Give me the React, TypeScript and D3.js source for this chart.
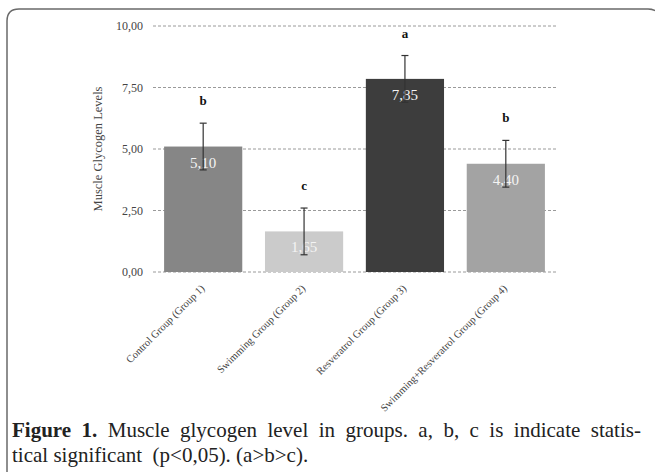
import * as d3 from "d3";
import React from "react";

const groups = [
  "Control Group (Group 1)",
  "Swimming Group (Group 2)",
  "Resveratrol Group (Group 3)",
  "Swimming+Resveratrol Group (Group 4)",
];
const means = [5.1, 1.65, 7.85, 4.4];
const errors = [0.95, 0.95, 0.95, 0.95];
const letters = ["b", "c", "a", "b"];
const barColors = ["#868686", "#cbcbcb", "#3d3d3d", "#a3a3a3"];
const yTicks = [0, 2.5, 5, 7.5, 10];

const fmt = (v: number) => v.toFixed(2).replace(".", ",");

const serif = { fontFamily: "'Liberation Serif', 'DejaVu Serif', serif" };

const App: React.FC = () => {
  const width = 655;
  const height = 472;
  const margin = { top: 26, bottom: 272, left: 153, right: 556 };

  const x = d3.scaleBand<string>()
    .domain(groups)
    .range([margin.left, margin.right])
    .paddingInner(0.225)
    .paddingOuter(0.11);

  const y = d3.scaleLinear().domain([0, 10]).range([margin.bottom, margin.top]);

  return (
    <svg
      width={width}
      height={height}
      style={{ position: "absolute", left: 0, top: 0, background: "#fff" }}
    >
      {/* frame */}
      <path
        d="M7,480 L7,21 Q7,9 19,9 L648,9 Q655,9 660,14"
        fill="none"
        stroke="#6a6a6a"
        strokeWidth={1.5}
      />

      {/* gridlines + y ticks */}
      {yTicks.map((t) => (
        <g key={t}>
          <line
            x1={margin.left}
            x2={margin.right}
            y1={y(t)}
            y2={y(t)}
            stroke="#9a9a9a"
            strokeWidth={1}
            strokeDasharray="3,2"
          />
          <text
            x={143}
            y={y(t)}
            dy="0.35em"
            textAnchor="end"
            fontSize={12}
            fill="#444"
            style={serif}
          >
            {fmt(t)}
          </text>
        </g>
      ))}

      <text
        transform={`translate(98,${(y(0) + y(10)) / 2}) rotate(-90)`}
        textAnchor="middle"
        dy="0.35em"
        fontSize={12.5}
        fill="#444"
        style={serif}
      >
        Muscle Glycogen Levels
      </text>

      {/* bars */}
      {groups.map((g, i) => {
        const bx = x(g)!;
        const cx = bx + x.bandwidth() / 2;
        const top = y(means[i] + errors[i]);
        const bot = y(means[i] - errors[i]);
        return (
          <g key={g}>
            <rect
              x={bx}
              y={y(means[i])}
              width={x.bandwidth()}
              height={y(0) - y(means[i])}
              fill={barColors[i]}
            />
            <text
              x={cx}
              y={y(means[i]) + 21}
              textAnchor="middle"
              fontSize={15}
              fill="#f4f4f4"
              style={serif}
            >
              {fmt(means[i])}
            </text>
            <line x1={cx} x2={cx} y1={top} y2={bot} stroke="#333" strokeWidth={1.2} />
            <line x1={cx - 3.5} x2={cx + 3.5} y1={top} y2={top} stroke="#333" strokeWidth={1.2} />
            <line x1={cx - 3.5} x2={cx + 3.5} y1={bot} y2={bot} stroke="#333" strokeWidth={1.2} />
            <text
              x={cx}
              y={top - 18}
              textAnchor="middle"
              fontSize={13}
              fontWeight="bold"
              fill="#111"
              style={serif}
            >
              {letters[i]}
            </text>
            <text
              transform={`translate(${cx + 2},${y(0) + 17}) rotate(-45)`}
              textAnchor="end"
              fontSize={10.5}
              fill="#444"
              style={serif}
            >
              {g}
            </text>
          </g>
        );
      })}

      {/* caption */}
      <text x={12} y={437} fontSize={21} fill="#222" style={{ ...serif, wordSpacing: "5.2px" }}>
        <tspan fontWeight="bold">Figure 1.</tspan>
        <tspan> Muscle glycogen level in groups. a, b, c is indicate statis-</tspan>
      </text>
      <text x={12} y={462} fontSize={21} fill="#222" style={{ ...serif, whiteSpace: "pre" }}>
        {"tical significant  (p<0,05). (a>b>c)."}
      </text>
    </svg>
  );
};

export default App;
